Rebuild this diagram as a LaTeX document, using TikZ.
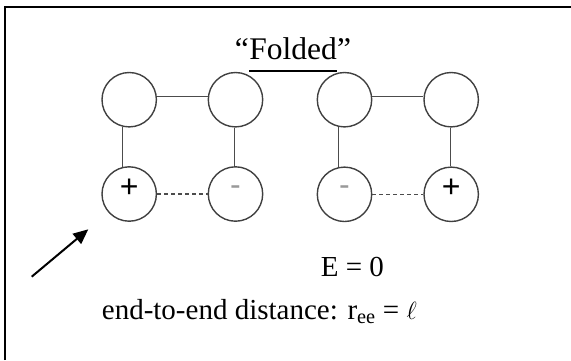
\documentclass[tikz,border=0pt]{standalone}
\usepackage{fontspec}
\setmainfont{Liberation Serif}
\newfontfamily\signfont{Liberation Sans}
\usetikzlibrary{arrows.meta}
\newcommand\minussign{\raisebox{0.07em}{-}}
\begin{document}
\begin{tikzpicture}[x=1pt,y=-1pt,
  bead/.style={circle,draw=black!75,line width=1.4pt,minimum size=54.4pt,inner sep=0pt,
    font=\signfont\fontsize{32}{32}\selectfont,text height=0.65em,text depth=0pt},
  negbead/.style={bead,text=black!40},
  bond/.style={draw=black!70,line width=1.3pt},
  contact/.style={draw=black!70,line width=1.3pt,dash pattern=on 4pt off 3pt},
  caption/.style={inner sep=0pt,font=\fontsize{29}{34}\selectfont},
  titletext/.style={inner sep=0pt,font=\fontsize{31.5}{36}\selectfont},
  pointer/.style={line width=2pt,-{Triangle[length=15pt,width=13pt]}}
]
\useasboundingbox (0,0) rectangle (571,360);

% frame (top and left edges)
\draw[line width=2.5pt] (5,360) -- (5,7) -- (571,7);

% title
\node[titletext,anchor=base] (fw) at (293,59.3) {Folded};
\node[titletext,anchor=base east] (lq) at (fw.base west) {“};
\node[titletext,anchor=base west] (rq) at (fw.base east) {”};
\draw[line width=2pt] ([yshift=-11.5pt]fw.base west) -- ([yshift=-11.5pt]fw.base east);

% first chain
\node[bead] (a1) at (129.2,99.7) {};
\node[bead] (b1) at (235.5,99.7) {};
\node[bead] (c1) at (129.2,194) {+};
\node[negbead] (d1) at (235.5,194) {\minussign};
\draw[bond] (a1.6) -- (b1.174);
\draw[bond] (a1.256) -- (c1.104);
\draw[bond] (b1.268) -- (d1.92);
\draw[contact] (c1.east) -- (d1.west);

% second chain
\node[bead] (a2) at (344.5,99.7) {};
\node[bead] (b2) at (451.2,99.7) {};
\node[negbead] (c2) at (344.5,194.3) {\minussign};
\node[bead] (d2) at (451.2,194.3) {+};
\draw[bond] (a2.6) -- (b2.174);
\draw[bond] (a2.257) -- (c2.103);
\draw[bond] (b2.268) -- (d2.92);
\draw[contact] (c2.east) -- (d2.west);

% pointer arrow
\coordinate (tail) at (31.7,276.7);
\coordinate (tip) at (88.3,229.3);
\draw[pointer] (tail) -- (tip);

% captions
\node[caption,anchor=base west] (energy) at (320.7,276) {E = 0};
\node[caption,anchor=base west] (dist) at (101.7,319.3) {end-to-end distance: r\textsubscript{ee} = $\ell$};
\end{tikzpicture}
\end{document}
